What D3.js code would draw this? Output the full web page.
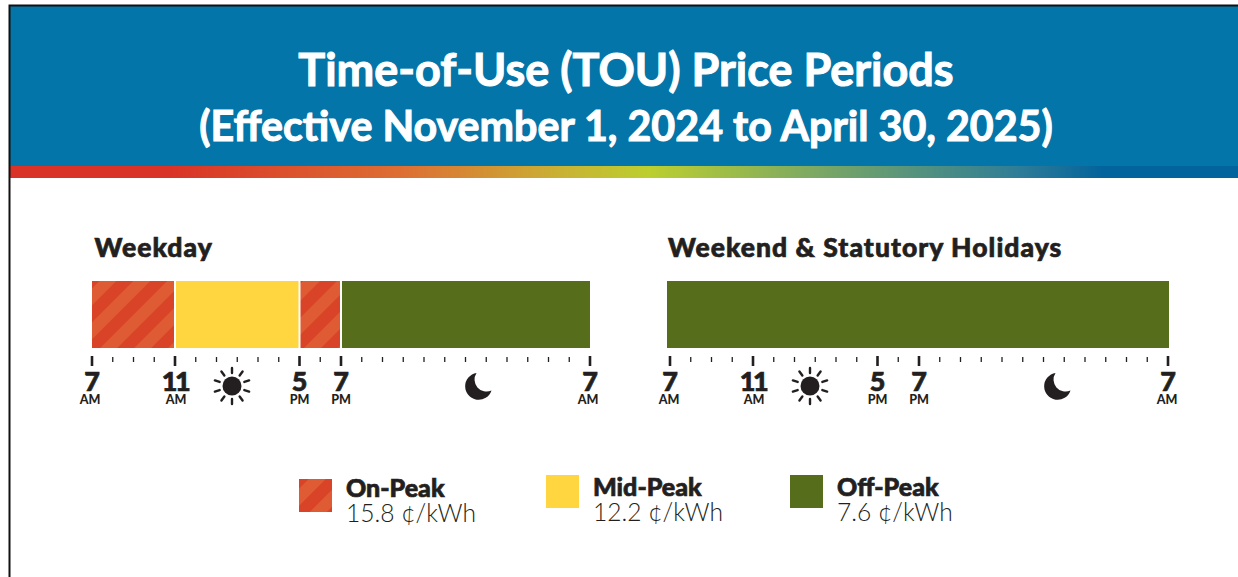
<!DOCTYPE html>
<html><head><meta charset="utf-8">
<style>html,body{margin:0;padding:0;background:#fff;overflow:hidden}svg{display:block}text{font-family:Lato,"Open Sans",sans-serif;fill:#231f20}.heavy{paint-order:stroke;stroke:#231f20;stroke-width:.7px}</style>
<script src="https://cdn.jsdelivr.net/npm/d3@7"></script></head><body>
<svg id="c" width="1238" height="577"></svg>
<script>
const titleLines=["Time-of-Use (TOU) Price Periods","(Effective November 1, 2024 to April 30, 2025)"];
const panelNames=["Weekday","Weekend & Statutory Holidays"];
const weekdayPeriods=["On-Peak","Mid-Peak","On-Peak","Off-Peak"];
const weekdayStarts=[0,4,10,12];
const weekdayEnds=[4,10,12,24];
const weekendPeriods=["Off-Peak"];
const weekendStarts=[0];
const weekendEnds=[24];
const majorHours=[0,4,10,12,24];
const majorLabels=["7","11","5","7","7"];
const majorSuffix=["AM","AM","PM","PM","AM"];
const legendNames=["On-Peak","Mid-Peak","Off-Peak"];
const legendPrices=["15.8 ¢/kWh","12.2 ¢/kWh","7.6 ¢/kWh"];
const gradientColors=["#d93327","#d93327","#dd6f33","#c9b233","#bccf2f","#7aa765","#2f7d97","#03639c","#03639c"];
const gradientStops=[0,0.13,0.32,0.45,0.52,0.66,0.82,0.89,1];

const svg=d3.select("#c");
const defs=svg.append("defs");
const color=d3.scaleOrdinal().domain(legendNames).range(["url(#hatch)","#ffd540","#566d1c"]);

const pat=defs.append("pattern").attr("id","hatch").attr("patternUnits","userSpaceOnUse")
  .attr("width",24).attr("height",24).attr("patternTransform","rotate(45) translate(5,0)");
pat.append("rect").attr("width",24).attr("height",24).attr("fill","#d94327");
pat.append("rect").attr("width",12).attr("height",24).attr("fill","#df5b34");

const grad=defs.append("linearGradient").attr("id","band");
grad.selectAll("stop").data(gradientColors).join("stop")
  .attr("offset",(d,i)=>gradientStops[i]).attr("stop-color",d=>d);

// header
svg.append("rect").attr("x",10).attr("y",6).attr("width",1228).attr("height",160).attr("fill","#0475a8");
svg.append("rect").attr("x",10).attr("y",166).attr("width",1228).attr("height",12).attr("fill","url(#band)");
svg.append("path").attr("d","M9.5 577V5.5H1238").attr("fill","none").attr("stroke","#111").attr("stroke-width",2);
svg.selectAll(".t").data(titleLines).join("text").attr("class","t")
  .attr("x",626).attr("y",(d,i)=>[86,141][i]).attr("text-anchor","middle")
  .style("font-size",(d,i)=>[45,41.2][i]+"px").style("font-weight",700)
  .style("fill","#fff").style("stroke","#fff").style("stroke-width","1px").text(d=>d);

function sun(g,cx,cy){
  g.append("circle").attr("cx",cx).attr("cy",cy).attr("r",9.5).attr("fill","#231f20");
  d3.range(10).forEach(i=>{
    const a=i/10*2*Math.PI+Math.PI/2;
    g.append("line").attr("x1",cx+Math.cos(a)*13).attr("y1",cy+Math.sin(a)*13)
     .attr("x2",cx+Math.cos(a)*18).attr("y2",cy+Math.sin(a)*18)
     .attr("stroke","#231f20").attr("stroke-width",2.4).attr("stroke-linecap","round");
  });
}
function moon(g,cx,cy){
  g.append("path").attr("transform",`translate(${cx},${cy})`)
   .attr("d","M-2.5 -13 A13.5 13.5 0 1 0 12.5 4.5 A12 12 0 0 1 -2.5 -13Z").attr("fill","#231f20");
}

function panel(name,x0,x1,bx0,bx1,sunX,moonX,periods,starts,ends,titleX,suffixShift){
  const g=svg.append("g");
  const x=d3.scaleLinear().domain([0,24]).range([x0,x1]);
  g.append("text").attr("class","heavy").attr("x",titleX).attr("y",257).style("font-weight",900).style("font-size","26.5px").style("letter-spacing","1.05px").text(name);
  const edge=h=>h===0?bx0:h===24?bx1:x(h);
  g.selectAll(".seg").data(periods).join("rect").attr("class","seg")
    .attr("x",(d,i)=>edge(starts[i])+(starts[i]===0?0:1))
    .attr("y",281).attr("height",67)
    .attr("width",(d,i)=>edge(ends[i])-edge(starts[i])-(starts[i]===0?0:1)-(ends[i]===24?0:1))
    .attr("fill",d=>color(d));
  const minor=d3.range(0,25).filter(h=>!majorHours.includes(h));
  g.selectAll(".mi").data(minor).join("line").attr("class","mi")
    .attr("x1",d=>x(d)).attr("x2",d=>x(d)).attr("y1",357).attr("y2",362)
    .attr("stroke","#231f20").attr("stroke-width",1.3);
  g.selectAll(".ma").data(majorHours).join("line").attr("class","ma")
    .attr("x1",d=>x(d)).attr("x2",d=>x(d)).attr("y1",356).attr("y2",366)
    .attr("stroke","#231f20").attr("stroke-width",2.6);
  g.selectAll(".ml").data(majorLabels).join("text").attr("class","ml heavy")
    .attr("x",(d,i)=>x(majorHours[i])).attr("y",391).attr("text-anchor","middle")
    .style("font-size","27px").style("font-weight",900)
    .style("letter-spacing",d=>d.length>1?"-2.5px":"0").text(d=>d);
  g.selectAll(".ms").data(majorSuffix).join("text").attr("class","ms")
    .attr("x",(d,i)=>x(majorHours[i])+suffixShift[i]).attr("y",403.5).attr("text-anchor","middle")
    .style("font-size","12.5px").style("font-weight",900).text(d=>d);
  sun(g,sunX,386); moon(g,moonX,386);
}
panel(panelNames[0],92,590,92,590,232,479,weekdayPeriods,weekdayStarts,weekdayEnds,94.5,[-2,1,0,0,-2]);
panel(panelNames[1],670,1168,667,1169,810,1058,weekendPeriods,weekendStarts,weekendEnds,668,[-1,1,0,0,-1]);

// legend
const lx=[299,546,790], ly=[479,475,475], tx=[346,593,837], ty=[497,496,496];
legendNames.forEach((n,i)=>{
  svg.append("rect").attr("x",lx[i]).attr("y",ly[i]).attr("width",33).attr("height",33).attr("fill",color(n));
  svg.append("text").attr("class","heavy").attr("x",tx[i]).attr("y",ty[i]).style("font-size","25px").style("font-weight",900).text(n);
  svg.append("text").attr("x",tx[i]).attr("y",ty[i]+25).style("font-size","24.6px").style("font-weight",300).text(legendPrices[i]);
});
</script></body></html>
